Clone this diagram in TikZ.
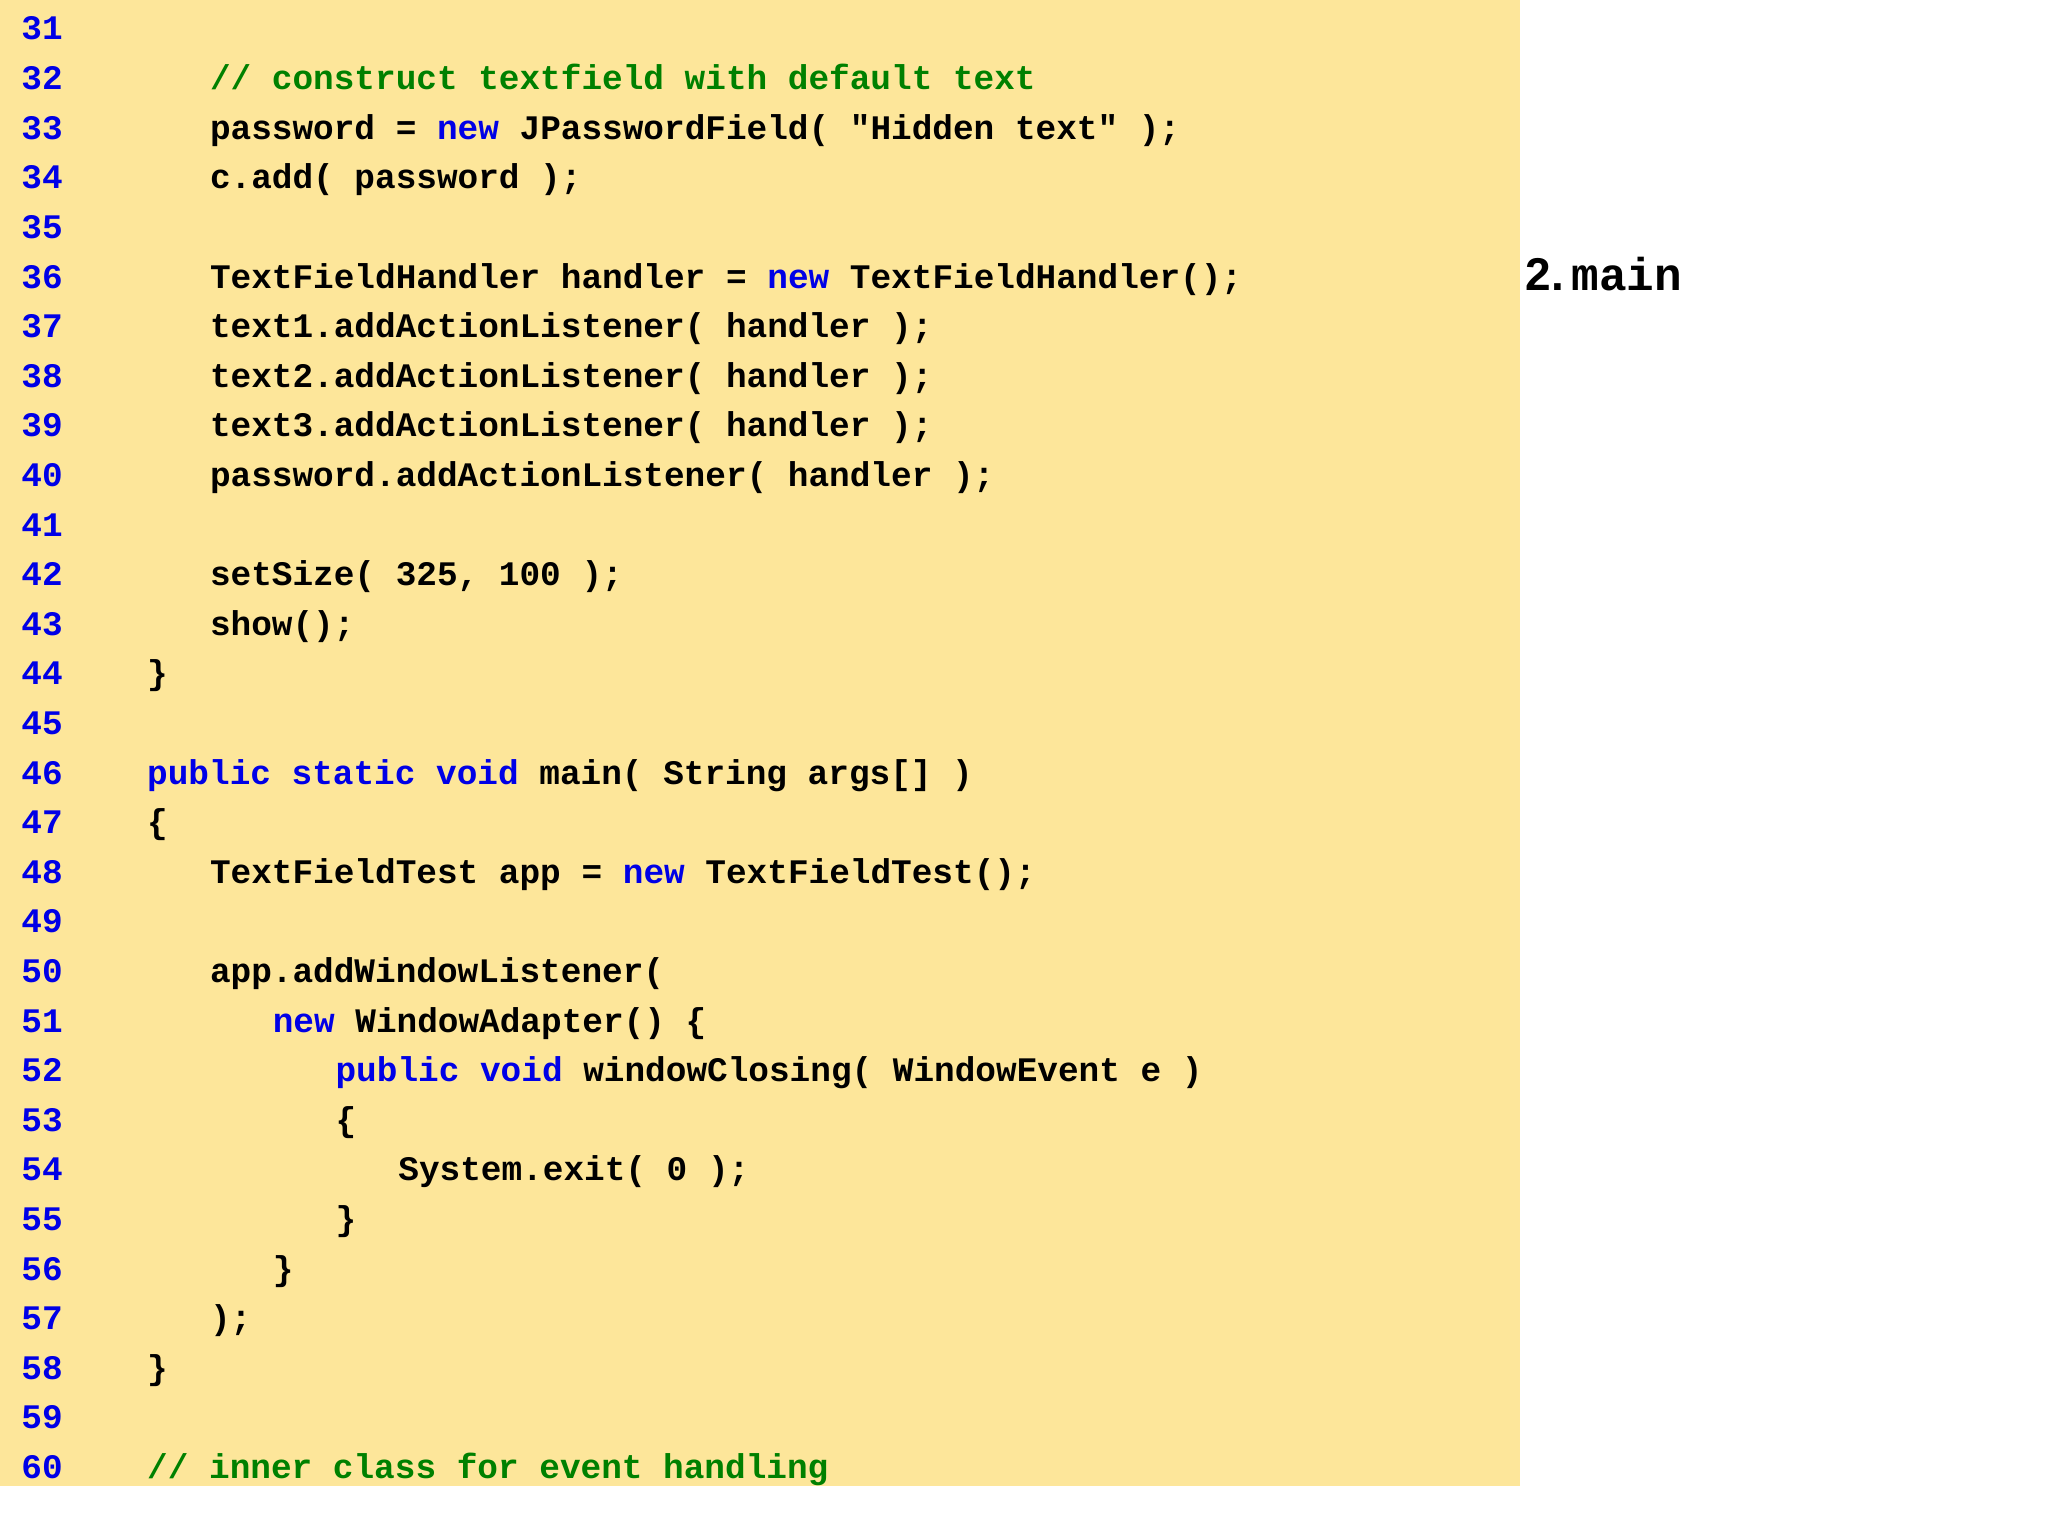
\documentclass[tikz,border=0pt]{standalone}
\usepackage{fontspec}
\setmainfont{Liberation Sans}
\setmonofont{Liberation Mono}
\definecolor{bgy}{RGB}{253,230,154}
\definecolor{kw}{RGB}{0,0,230}
\definecolor{cm}{RGB}{0,128,0}
\newcommand{\K}[1]{\textcolor{kw}{#1}}
\newcommand{\Cm}[1]{\textcolor{cm}{#1}}
\tikzset{code/.style={anchor=base west,inner sep=0pt,font=\ttfamily\bfseries\fontsize{17.2pt}{20pt}\selectfont}}
\newcommand{\cl}[3]{%
  \node[code,text=kw] (n#1) at (10.5pt,{-(20pt+(#1-31)*24.8pt)}) {#1};
  \node[code] (c#1) at ({42pt+#2*31.4pt},{-(20pt+(#1-31)*24.8pt)}) {#3};}
\begin{document}
\begin{tikzpicture}
\useasboundingbox (0,0) rectangle (1024pt,-768pt);
\fill[bgy] (0,0) rectangle (760pt,-743pt);
\cl{31}{0}{}
\cl{32}{2}{\Cm{// construct textfield with default text}}
\cl{33}{2}{password = \K{new} JPasswordField( "Hidden text" );}
\cl{34}{2}{c.add( password );}
\cl{35}{0}{}
\cl{36}{2}{TextFieldHandler handler = \K{new} TextFieldHandler();}
\cl{37}{2}{text1.addActionListener( handler );}
\cl{38}{2}{text2.addActionListener( handler );}
\cl{39}{2}{text3.addActionListener( handler );}
\cl{40}{2}{password.addActionListener( handler );}
\cl{41}{0}{}
\cl{42}{2}{setSize( 325, 100 );}
\cl{43}{2}{show();}
\cl{44}{1}{\}}
\cl{45}{0}{}
\cl{46}{1}{\K{public static void} main( String args[] )}
\cl{47}{1}{\{}
\cl{48}{2}{TextFieldTest app = \K{new} TextFieldTest();}
\cl{49}{0}{}
\cl{50}{2}{app.addWindowListener(}
\cl{51}{3}{\K{new} WindowAdapter() \{}
\cl{52}{4}{\K{public void} windowClosing( WindowEvent e )}
\cl{53}{4}{\{}
\cl{54}{5}{System.exit( 0 );}
\cl{55}{4}{\}}
\cl{56}{3}{\}}
\cl{57}{2}{);}
\cl{58}{1}{\}}
\cl{59}{0}{}
\cl{60}{1}{\Cm{// inner class for event handling}}
\node[anchor=base west,inner sep=0pt,font=\bfseries\fontsize{23pt}{26pt}\selectfont] (lab) at (762.5pt,-145pt) {2.\,\texttt{main}};
\end{tikzpicture}
\end{document}
